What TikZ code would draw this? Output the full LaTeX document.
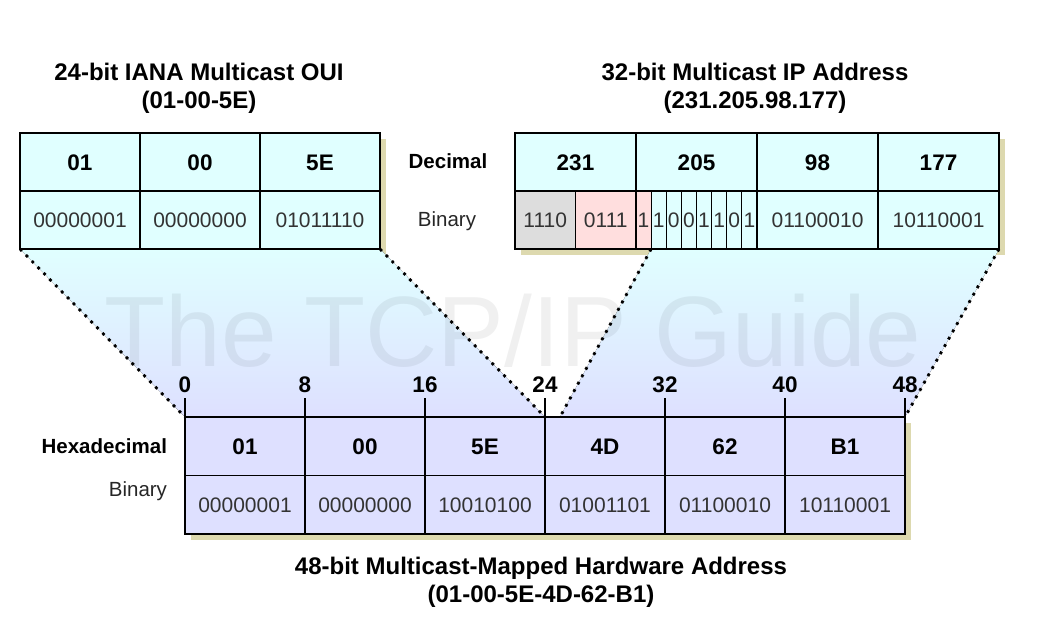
\documentclass[tikz,border=0pt]{standalone}
\usepackage{fontspec}
\setmainfont{Liberation Sans}
\usetikzlibrary{calc,backgrounds}

\definecolor{ipcyan}{RGB}{224,255,255}
\definecolor{maclav}{RGB}{222,224,255}
\definecolor{shadowtan}{RGB}{221,217,175}
\definecolor{mcgray}{RGB}{221,221,221}
\definecolor{mcpink}{RGB}{255,222,222}

\def\cellw{120pt}
\def\ipw{121pt}
\def\bitw{15.125pt}

\begin{document}
\begin{tikzpicture}[x=1pt,y=-1pt,every node/.style={inner sep=0pt,outer sep=0pt}]
    \tikzstyle{hexcell}=[rectangle,draw=black,line width=1.2pt,minimum width=\cellw,minimum height=58pt,text height=16.1pt,text depth=0pt,font=\fontsize{22.5}{26}\bfseries\selectfont]
    \tikzstyle{bincell}=[rectangle,draw=black,line width=1.2pt,minimum width=\cellw,minimum height=58pt,text height=15pt,text depth=0pt,text=black!80,font=\fontsize{21}{25}\selectfont]
    \tikzstyle{bitcell}=[bincell,minimum width=\bitw]
    \tikzstyle{outerbox}=[draw=black,line width=2.6pt]
    \tikzstyle{dots}=[draw=black,line width=2.8pt,dash pattern=on 2.8pt off 5.6pt]
    \tikzstyle{tick}=[draw=black,line width=2.6pt]
    \tikzstyle{ticklabel}=[text height=16pt,text depth=0pt,font=\fontsize{22.5}{26}\bfseries\selectfont]
    \tikzstyle{rowhead}=[font=\fontsize{20.5}{24}\bfseries\selectfont]
    \tikzstyle{rowlabel}=[text=black!85,font=\fontsize{20.5}{24}\selectfont]
    \tikzstyle{title}=[align=center,font=\fontsize{24}{28}\bfseries\selectfont]
    \tikzstyle{watermark}=[anchor=base,text=black,text opacity=0.06,font=\fontsize{100}{110}\selectfont]

    \useasboundingbox (0,0) rectangle (1043,629);

    %%% OUI BOX
    \foreach \name/\x/\txt in {1/80/01,2/200/00,3/320/5E}
        \node[hexcell,fill=ipcyan] (OH-\name) at (\x,162) {\txt};
    \foreach \name/\x/\txt in {1/80/00000001,2/200/00000000,3/320/01011110}
        \node[bincell,fill=ipcyan] (OB-\name) at (\x,220) {\txt};
    \draw[outerbox] (OH-1.north west) rectangle (OB-3.south east);

    %%% IP BOX
    \foreach \name/\txt in {1/231,2/205,3/98,4/177}
        \node[hexcell,fill=ipcyan,minimum width=\ipw] (IH-\name) at ({515+121*(\name-0.5)},162) {\txt};
    \node[bincell,fill=mcgray,minimum width=60.5pt] (IB-a) at (545.25,220) {1110};
    \node[bincell,fill=mcpink,minimum width=60.5pt] (IB-b) at (605.75,220) {0111};
    \foreach \name/\b/\col in {1/1/mcpink,2/1/ipcyan,3/0/ipcyan,4/0/ipcyan,5/1/ipcyan,6/1/ipcyan,7/0/ipcyan,8/1/ipcyan}
        \node[bitcell,fill=\col] (BT-\name) at ({636+15.125*(\name-0.5)},220) {\b};
    \foreach \name/\txt in {3/01100010,4/10110001}
        \node[bincell,fill=ipcyan,minimum width=\ipw] (IB-\name) at ({515+121*(\name-0.5)},220) {\txt};
    \draw[outerbox] (IH-1.north west) rectangle (IB-4.south east);

    %%% MAC BOX
    \foreach \name/\txt in {1/01,2/00,3/5E,4/4D,5/62,6/B1}
        \node[hexcell,fill=maclav,minimum height=58.5pt] (MH-\name) at ({185+120*(\name-0.5)},446.25) {\txt};
    \foreach \name/\txt in {1/00000001,2/00000000,3/10010100,4/01001101,5/01100010,6/10110001}
        \node[bincell,fill=maclav,minimum height=58.5pt] (MB-\name) at ({185+120*(\name-0.5)},504.75) {\txt};
    \draw[outerbox] (MH-1.north west) rectangle (MB-6.south east);
    \coordinate (M25) at ($(MH-4.north west)+(15,0)$);

    %%% SHADOWS, MAPPING AREAS, WATERMARK
    \begin{pgfonlayer}{background}
        \fill[shadowtan] ($(OH-1.north west)+(6,6)$) rectangle ($(OB-3.south east)+(6,6)$);
        \fill[shadowtan] ($(IH-1.north west)+(6,6)$) rectangle ($(IB-4.south east)+(6,6)$);
        \fill[shadowtan] ($(MH-1.north west)+(6,6)$) rectangle ($(MB-6.south east)+(6,6)$);
        \fill[top color=ipcyan,bottom color=maclav] (OB-1.south west) -- (OB-3.south east) -- (MH-3.north east) -- (MH-1.north west) -- cycle;
        \fill[top color=ipcyan,bottom color=maclav] (BT-2.south west) -- (IB-4.south east) -- (MH-6.north east) -- (M25) -- cycle;
        \node[watermark] (wm) at (513,366) {The TCP/IP Guide};
    \end{pgfonlayer}

    %%% DRAW THE PATHS
    \draw[dots] (OB-1.south west) -- (MH-1.north west);
    \draw[dots] (OB-3.south east) -- (MH-3.north east);
    \draw[dots] (BT-2.south west) -- (M25);
    \draw[dots] (IB-4.south east) -- (MH-6.north east);

    %%% BIT POSITIONS
    \foreach \k/\lab in {0/0,1/8,2/16,3/24,4/32,5/40,6/48} {
        \coordinate (T-\k) at ({185+120*\k},417);
        \node[ticklabel] (TL-\k) at ({185+120*\k},384) {\lab};
        \draw[tick] (T-\k) -- ++(0,-19);
    }

    %%% ANOTATE
    \node[rowhead] (dec) at (448,161) {Decimal};
    \node[rowlabel] (ipbin) at (447,221) {Binary};
    \node[rowhead,anchor=east] (hexl) at (167,446) {Hexadecimal};
    \node[rowlabel,anchor=east] (macbin) at (167,491) {Binary};

    \node[title] (oui) at (199,88) {24-bit IANA Multicast OUI\\(01-00-5E)};
    \node[title] (ip) at (755,88) {32-bit Multicast IP Address\\(231.205.98.177)};
    \node[title] (mac) at (541,582) {48-bit Multicast-Mapped Hardware Address\\(01-00-5E-4D-62-B1)};
\end{tikzpicture}
\end{document}
